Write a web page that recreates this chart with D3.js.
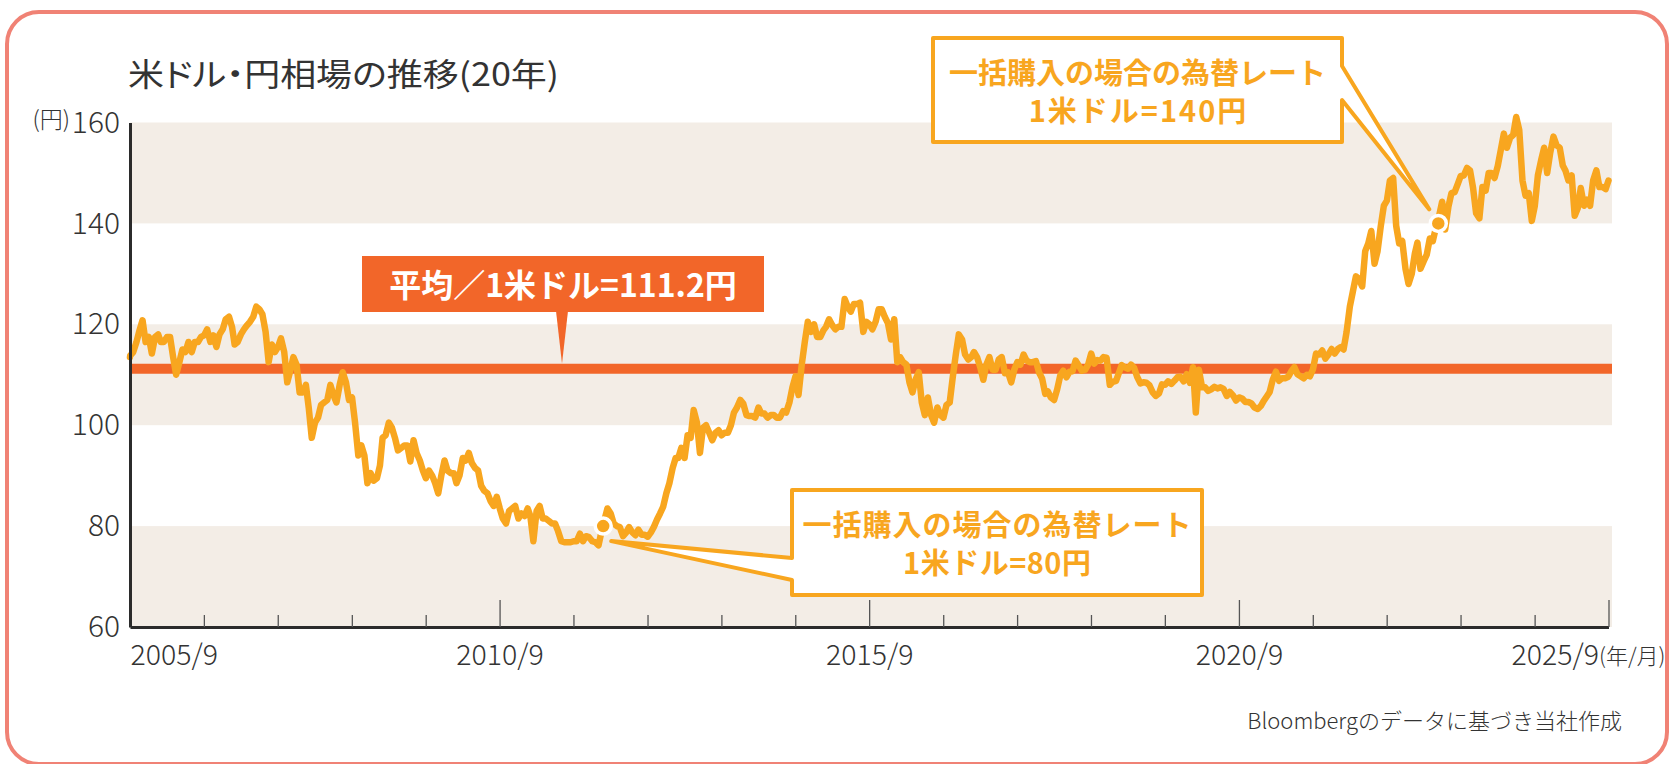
<!DOCTYPE html>
<html>
<head>
<meta charset="utf-8">
<script src="https://cdn.jsdelivr.net/npm/d3@7"></script>
<style>
  html, body { margin: 0; padding: 0; background: #ffffff; }
  svg { display: block; font-family: "Noto Sans CJK JP", "Noto Sans", sans-serif; }
  .palt { font-feature-settings: "palt"; }
</style>
</head>
<body>
<svg id="chart" width="1671" height="764"></svg>
<script>
// USD/JPY closing rates: first and last day of the 20-year window,
// plus two readings per month (1st and 16th) in between.
const rateStart = { date: new Date(2005, 8, 30), rate: 113.5 };
const rateEnd = { date: new Date(2025, 8, 30), rate: 148.5 };

const rate2005 = [113.8, 114.5, 116.5, 118.8, 120.8, 116.5];            // Oct–Dec
const rate2006 = [117.5, 114.2, 117.5, 118.0, 116.5, 116.5, 117.5, 117.5, 113.5, 110.0, 112.5, 115.0,
                  114.5, 116.5, 114.5, 116.5, 116.5, 117.5, 117.8, 119.0, 116.5, 117.8, 115.5, 118.0];
const rate2007 = [119.0, 121.0, 121.5, 119.5, 116.0, 116.5, 118.0, 119.0, 119.8, 120.5, 121.5, 123.5,
                  123.0, 122.0, 118.5, 112.5, 116.0, 114.5, 115.5, 117.2, 114.5, 108.5, 110.8, 113.5];
const rate2008 = [112.0, 106.5, 106.5, 108.0, 103.5, 97.5, 100.5, 101.5, 104.0, 104.5, 105.0, 108.0,
                  106.0, 104.5, 108.0, 110.5, 108.5, 105.0, 105.5, 100.5, 94.0, 96.0, 94.0, 88.5];
const rate2009 = [90.5, 89.0, 89.5, 92.0, 97.5, 98.0, 100.5, 99.5, 97.5, 95.0, 95.5, 96.0,
                  96.0, 92.8, 97.0, 94.5, 93.0, 91.0, 89.5, 91.0, 90.0, 88.5, 86.5, 90.0];
const rate2010 = [93.0, 91.0, 90.5, 90.5, 88.5, 90.0, 93.5, 93.0, 94.5, 92.5, 91.5, 91.0,
                  88.0, 87.0, 86.5, 85.0, 84.0, 85.8, 83.5, 81.5, 80.5, 83.0, 83.5, 84.0];
const rate2011 = [81.5, 82.5, 82.0, 83.5, 82.0, 77.0, 83.0, 84.0, 81.5, 81.5, 81.0, 80.5,
                  80.5, 79.0, 77.0, 76.8, 76.8, 76.8, 77.0, 77.0, 78.5, 77.0, 78.0, 77.8];
const rate2012 = [77.0, 76.8, 76.2, 79.0, 81.2, 83.5, 82.5, 80.5, 80.0, 79.8, 78.0, 78.7,
                  79.8, 78.8, 78.2, 79.3, 78.3, 78.3, 77.9, 78.7, 79.9, 81.3, 82.5, 83.8];
const rate2013 = [86.5, 88.5, 91.5, 93.5, 93.5, 95.5, 93.5, 98.0, 97.5, 103.0, 100.5, 94.5,
                  99.5, 100.0, 98.5, 97.0, 98.5, 99.0, 98.0, 98.5, 98.5, 100.0, 102.5, 103.5];
const rate2014 = [105.0, 104.3, 102.0, 101.8, 101.8, 101.5, 103.5, 102.3, 102.3, 101.5, 102.0, 102.0,
                  101.5, 101.5, 102.8, 102.5, 104.5, 107.5, 109.7, 106.0, 112.0, 116.5, 120.5, 118.5];
const rate2015 = [120.0, 117.5, 117.5, 118.8, 119.5, 121.0, 119.8, 119.0, 119.5, 119.5, 125.0, 123.5,
                  122.5, 124.0, 124.0, 124.3, 118.5, 120.5, 120.0, 119.0, 120.5, 123.0, 123.0, 121.5];
const rate2016 = [120.2, 117.0, 121.0, 112.5, 113.5, 112.5, 112.0, 108.5, 106.5, 109.0, 110.5, 104.5,
                  102.0, 105.5, 102.0, 100.5, 103.5, 102.0, 101.5, 104.0, 104.5, 109.5, 114.0, 118.0];
const rate2017 = [117.0, 114.0, 113.0, 113.5, 114.5, 113.5, 111.5, 109.0, 112.0, 113.5, 111.0, 111.0,
                  113.0, 113.5, 110.3, 110.5, 108.5, 111.0, 112.5, 112.0, 114.0, 112.8, 112.5, 112.5];
const rate2018 = [112.7, 110.5, 109.2, 106.2, 106.7, 105.5, 105.0, 107.1, 109.8, 110.8, 109.5, 110.6,
                  110.7, 112.8, 111.8, 110.8, 111.0, 112.0, 114.2, 112.2, 112.9, 112.8, 113.5, 113.4];
const rate2019 = [108.0, 108.6, 108.8, 110.5, 111.9, 111.5, 111.2, 112.0, 111.4, 109.6, 108.3, 108.5,
                  108.4, 107.9, 106.5, 105.8, 106.3, 108.1, 108.0, 108.7, 108.2, 108.8, 109.5, 109.6];
const rate2020 = [108.7, 110.1, 108.4, 111.5, 102.5, 111.0, 107.5, 107.5, 106.8, 107.1, 107.6, 107.3,
                  107.5, 107.2, 105.8, 106.6, 105.9, 104.9, 105.5, 105.3, 104.6, 104.6, 104.3, 103.5];
const rate2021 = [103.2, 103.8, 104.9, 105.8, 106.6, 109.0, 110.6, 108.8, 109.3, 109.3, 109.6, 110.7,
                  111.5, 110.1, 109.7, 109.3, 110.0, 109.7, 111.1, 114.2, 114.0, 114.8, 113.2, 114.0];
const rate2022 = [115.1, 114.2, 115.1, 115.5, 115.0, 118.5, 123.5, 126.5, 129.5, 129.0, 127.5, 134.5,
                  136.0, 138.5, 132.0, 134.5, 139.5, 143.5, 144.5, 148.5, 149.0, 139.5, 136.0, 136.5];
const rate2023 = [131.0, 128.0, 130.0, 134.0, 136.2, 131.0, 132.5, 133.8, 137.0, 136.5, 139.3, 141.5,
                  144.3, 138.8, 143.3, 146.0, 146.2, 147.8, 149.4, 149.5, 151.0, 150.5, 147.0, 142.0];
const rate2024 = [141.0, 147.2, 146.5, 150.0, 150.0, 149.0, 151.4, 154.6, 157.8, 155.0, 157.0, 157.5,
                  161.1, 158.5, 148.5, 145.5, 146.0, 140.5, 143.5, 149.5, 152.5, 155.0, 150.0, 154.0];
const rate2025 = [157.2, 155.5, 155.0, 151.5, 150.5, 148.5, 149.5, 141.5, 143.0, 147.0, 143.5, 144.7,
                  143.5, 148.5, 150.5, 147.2, 147.2, 146.8];                  // Jan–Sep

const averageRate = 111.2;
const yTicks = [60, 80, 100, 120, 140, 160];
const shadedBands = [[60, 80], [100, 120], [140, 160]];
const tickYears = d3.range(2005, 2026);
const labelYears = [2005, 2010, 2015, 2020, 2025];
const lumpSum = [
  { date: new Date(2012, 1, 24), rate: 80,  text: ["一括購入の場合の為替レート", "1米ドル=80円"] },
  { date: new Date(2023, 5, 12), rate: 140, text: ["一括購入の場合の為替レート", "1米ドル=140円"] }
];

const COLOR_LINE = "#f8a61f";
const COLOR_AVG = "#f26629";
const COLOR_BAND = "#f3ede6";
const COLOR_TEXT = "#333333";

const monthly = [].concat(rate2005, rate2006, rate2007, rate2008, rate2009, rate2010, rate2011,
  rate2012, rate2013, rate2014, rate2015, rate2016, rate2017, rate2018, rate2019, rate2020,
  rate2021, rate2022, rate2023, rate2024, rate2025);
const series = [{ date: rateStart.date, v: rateStart.rate }]
  .concat(monthly.map((v, i) => ({
    date: new Date(2005, 9 + Math.floor(i / 2), i % 2 ? 16 : 1),
    v
  })))
  .concat([{ date: rateEnd.date, v: rateEnd.rate }]);

const svg = d3.select("#chart");

const x = d3.scaleTime()
  .domain([new Date(2005, 8, 30), new Date(2025, 8, 30)])
  .range([130, 1608.5]);
const y = d3.scaleLinear().domain([60, 160]).range([627, 122.5]);
const plotRight = 1612;

// outer frame
svg.append("rect")
  .attr("x", 7).attr("y", 12).attr("width", 1660).attr("height", 752)
  .attr("rx", 32).attr("ry", 32)
  .attr("fill", "#ffffff").attr("stroke", "#f08275").attr("stroke-width", 4);

// title
svg.append("text")
  .attr("class", "palt")
  .attr("x", 128).attr("y", 86)
  .attr("font-size", 32).attr("fill", COLOR_TEXT)
  .attr("textLength", 431).attr("lengthAdjust", "spacingAndGlyphs")
  .text("米ドル・円相場の推移(20年)");

// unit label
svg.append("text")
  .attr("x", 70).attr("y", 128).attr("text-anchor", "end")
  .attr("font-size", 23).attr("font-weight", 300).attr("fill", COLOR_TEXT)
  .text("(円)");

// shaded bands
svg.append("g").selectAll("rect").data(shadedBands).join("rect")
  .attr("x", 130).attr("width", plotRight - 130)
  .attr("y", d => y(d[1])).attr("height", d => y(d[0]) - y(d[1]))
  .attr("fill", COLOR_BAND);

// average line
svg.append("line")
  .attr("x1", 131).attr("x2", plotRight)
  .attr("y1", y(averageRate)).attr("y2", y(averageRate))
  .attr("stroke", COLOR_AVG).attr("stroke-width", 10);

// exchange-rate line
svg.append("path")
  .datum(series)
  .attr("fill", "none")
  .attr("stroke", COLOR_LINE)
  .attr("stroke-width", 6.5)
  .attr("stroke-linejoin", "round")
  .attr("stroke-linecap", "round")
  .attr("d", d3.line().x(d => x(d.date)).y(d => y(d.v)));

// x axis
const xAxis = d3.axisBottom(x)
  .tickValues(tickYears.map(yr => new Date(yr, 8, 30)))
  .tickSizeInner(-12).tickSizeOuter(0).tickPadding(18)
  .tickFormat(d => labelYears.includes(d.getFullYear()) ? `${d.getFullYear()}/9` : "");
const gx = svg.append("g").attr("transform", `translate(0,${y(60)})`).call(xAxis);
gx.attr("font-family", null).attr("font-size", 28.5).attr("font-weight", 300);
gx.select(".domain").attr("stroke", "#2b2b2b").attr("stroke-width", 3);
gx.selectAll(".tick line").attr("stroke", "#555").attr("stroke-width", 1.3)
  .attr("y2", d => (d.getFullYear() - 2005) % 5 === 0 ? -27 : -12);
gx.selectAll(".tick text").attr("fill", COLOR_TEXT)
  .attr("text-anchor", d => d.getFullYear() === 2005 ? "start" : d.getFullYear() === 2025 ? "end" : "middle")
  .attr("dx", d => d.getFullYear() === 2025 ? -10 : 0);
svg.append("text")
  .attr("x", 1599).attr("y", 664)
  .attr("font-size", 22).attr("font-weight", 300).attr("fill", COLOR_TEXT)
  .text("(年/月)");

// y axis
const yAxis = d3.axisLeft(y).tickValues(yTicks).tickSize(0).tickSizeOuter(0).tickPadding(10);
const gy = svg.append("g").attr("transform", "translate(130,0)").call(yAxis);
gy.attr("font-family", null).attr("font-size", 30).attr("font-weight", 300);
gy.select(".domain").attr("stroke", "#2b2b2b").attr("stroke-width", 3);
gy.selectAll(".tick text").attr("fill", COLOR_TEXT);

// average label with pointer
const avgY = y(averageRate);
const avgBox = { x: 362, y: 256, w: 402, h: 56 };
const avgTipX = 562;
svg.append("rect")
  .attr("x", avgBox.x).attr("y", avgBox.y).attr("width", avgBox.w).attr("height", avgBox.h)
  .attr("fill", COLOR_AVG);
svg.append("path")
  .attr("d", `M${avgTipX - 6},${avgBox.y + avgBox.h - 1} L${avgTipX + 6},${avgBox.y + avgBox.h - 1} L${avgTipX},${avgY - 5} Z`)
  .attr("fill", COLOR_AVG);
svg.append("text")
  .attr("x", avgBox.x + avgBox.w / 2).attr("y", avgBox.y + 41)
  .attr("text-anchor", "middle").attr("font-size", 32).attr("font-weight", 700)
  .attr("fill", "#ffffff")
  .text("平均／1米ドル=111.2円");

// speech-bubble callouts for the lump-sum purchase rates
function bubblePath(b, tip, side, gapTop, gapBottom) {
  const L = b.x, R = b.x + b.w, T = b.y, B = b.y + b.h;
  if (side === "left") {
    return `M${L},${T} H${R} V${B} H${L} V${gapBottom} L${tip[0]},${tip[1]} L${L},${gapTop} Z`;
  }
  return `M${L},${T} H${R} V${gapTop} L${tip[0]},${tip[1]} L${R},${gapBottom} V${B} H${L} Z`;
}

const callouts = [
  { mark: lumpSum[0], box: { x: 792, y: 490, w: 410, h: 105 }, side: "left", gap: [558, 580],
    off: [8, 15], spacing: [1, 0.5] },
  { mark: lumpSum[1], box: { x: 933, y: 38, w: 409, h: 104 }, side: "right", gap: [66, 100],
    off: [-9, -14], spacing: [0, 2] }
];

callouts.forEach(c => {
  const px = x(c.mark.date), py = y(c.mark.rate);
  const tip = [px + c.off[0], py + c.off[1]];
  svg.append("path")
    .attr("d", bubblePath(c.box, tip, c.side, c.gap[0], c.gap[1]))
    .attr("fill", "#ffffff").attr("stroke", COLOR_LINE).attr("stroke-width", 4)
    .attr("stroke-linejoin", "round");
  const cx = c.box.x + c.box.w / 2;
  [46, 84].forEach((dy, k) => {
    svg.append("text")
      .attr("x", cx + c.spacing[k] / 2).attr("y", c.box.y + dy)
      .attr("text-anchor", "middle").attr("font-size", 29).attr("font-weight", 700)
      .attr("letter-spacing", c.spacing[k])
      .attr("fill", COLOR_LINE).text(c.mark.text[k]);
  });
});

// lump-sum markers
svg.append("g").selectAll("circle").data(lumpSum).join("circle")
  .attr("cx", d => x(d.date)).attr("cy", d => y(d.rate))
  .attr("r", 8)
  .attr("fill", COLOR_LINE).attr("stroke", "#ffffff").attr("stroke-width", 3.5);

// source note
svg.append("text")
  .attr("x", 1622).attr("y", 729).attr("text-anchor", "end")
  .attr("font-size", 22).attr("font-weight", 300).attr("fill", COLOR_TEXT)
  .text("Bloombergのデータに基づき当社作成");
</script>
</body>
</html>
